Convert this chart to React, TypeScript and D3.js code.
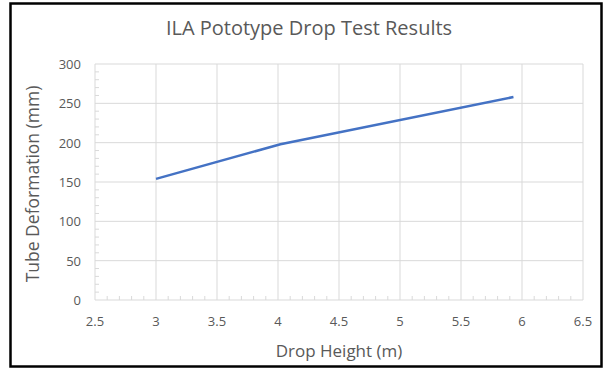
import React from "react";
import * as d3 from "d3";

const width = 609;
const height = 372;
const margin = { top: 64, right: 26, bottom: 72, left: 95 };

// drop height (m) vs tube deformation (mm)
const dropHeight = [3, 4.02, 5.93];
const deformation = [154, 198, 258];
const xTicks = [2.5, 3, 3.5, 4, 4.5, 5, 5.5, 6, 6.5];
const yTicks = [0, 50, 100, 150, 200, 250, 300];

const font = "'Open Sans', sans-serif";
const grey = "#595959";
const gridColor = "#d9d9d9";

export default function App() {
  const x = d3.scaleLinear().domain([2.5, 6.5]).range([margin.left, width - margin.right]);
  const y = d3.scaleLinear().domain([0, 300]).range([height - margin.bottom, margin.top]);

  const xMinor = d3.range(25, 66).map((d) => d / 10).filter((d) => Math.round(d * 10) % 5 !== 0);
  const yMinor = d3.range(0, 301, 10).filter((d) => d % 50 !== 0);

  const line = d3.line<number>()
    .x((d, i) => x(dropHeight[i]))
    .y((d) => y(d));

  const x0 = x(2.5), x1 = x(6.5), y0 = y(0), y1 = y(300);

  return (
    <svg width={width} height={height} style={{ position: "absolute", left: 0, top: 0 }}>
      <rect x={0} y={0} width={width} height={height} fill="#fff" />
      <rect x={10.5} y={3.5} width={591} height={363} fill="none" stroke="#000" strokeWidth={2.5} />

      <text x={309} y={35} textAnchor="middle" fontFamily={font} fontSize={20} fill={grey}>
        ILA Pototype Drop Test Results
      </text>

      {/* Gitter */}
      {yTicks.map((t) => (
        <line key={"gy" + t} x1={x0} x2={x1} y1={y(t)} y2={y(t)} stroke={gridColor} strokeWidth={1} />
      ))}
      {xTicks.map((t) => (
        <line key={"gx" + t} x1={x(t)} x2={x(t)} y1={y0} y2={y1} stroke={gridColor} strokeWidth={1} />
      ))}

      {/* Nebenstriche */}
      {xMinor.map((t) => (
        <line key={"mx" + t} x1={x(t)} x2={x(t)} y1={y0} y2={y0 - 4} stroke={gridColor} strokeWidth={1} />
      ))}
      {yMinor.map((t) => (
        <line key={"my" + t} x1={x0} x2={x0 + 4} y1={y(t)} y2={y(t)} stroke={gridColor} strokeWidth={1} />
      ))}

      <path d={line(deformation) || ""} fill="none" stroke="#4472c4" strokeWidth={2.5} />

      {yTicks.map((t) => (
        <text key={"ty" + t} x={x0 - 14} y={y(t) + 5} textAnchor="end" fontFamily={font} fontSize={13} fill={grey}>
          {t}
        </text>
      ))}
      {xTicks.map((t) => (
        <text key={"tx" + t} x={x(t)} y={y0 + 26} textAnchor="middle" fontFamily={font} fontSize={13} fill={grey}>
          {t}
        </text>
      ))}

      <text x={339} y={357} textAnchor="middle" fontFamily={font} fontSize={17} fill={grey}>
        Drop Height (m)
      </text>
      <text transform={`translate(39, ${(y0 + y1) / 2 + 2}) rotate(-90)`} textAnchor="middle" fontFamily={font} fontSize={17.5} fill={grey}>
        Tube Deformation (mm)
      </text>
    </svg>
  );
}
